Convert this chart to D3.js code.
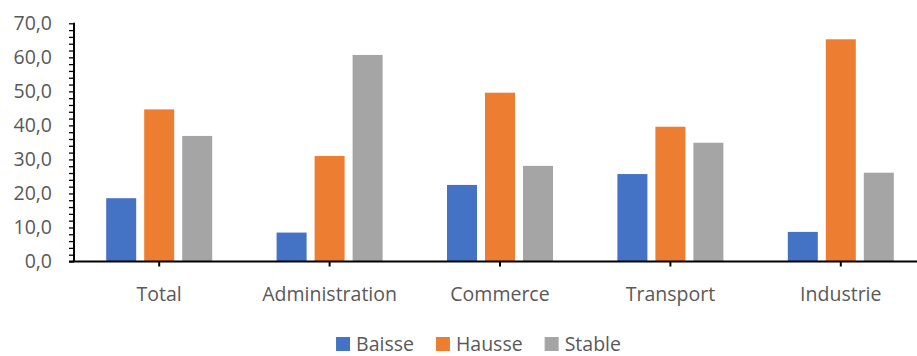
<!DOCTYPE html>
<html>
<head>
<meta charset="utf-8">
<script src="https://cdn.jsdelivr.net/npm/d3@7/dist/d3.min.js"></script>
<style>
  html, body { margin: 0; padding: 0; background: #fff; }
  svg { display: block; font-family: "Open Sans", sans-serif; }
</style>
</head>
<body>
<svg id="chart" width="917" height="356"></svg>
<script>
// Secteurs et séries
const categories = ["Total", "Administration", "Commerce", "Transport", "Industrie"];
const seriesNames = ["Baisse", "Hausse", "Stable"];
const baisse = [18.6, 8.5, 22.5, 25.7, 8.7];
const hausse = [44.7, 31.0, 49.6, 39.6, 65.3];
const stable = [36.9, 60.7, 28.1, 34.9, 26.1];
const yTicks = [0, 10, 20, 30, 40, 50, 60, 70];
const colors = ["#4472C4", "#ED7D31", "#A5A5A5"];

const seriesValues = [baisse, hausse, stable];
const rows = categories.map((c, i) => ({
  category: c,
  values: seriesNames.map((s, j) => ({ series: s, value: seriesValues[j][i] }))
}));

const svg = d3.select("#chart");
const plotLeft = 74, plotRight = 926, plotTop = 23.3, plotBottom = 261.5;
const textColor = "#595959";

const x0 = d3.scaleBand().domain(categories).range([plotLeft, plotRight]).padding(0);
const groupWidth = 106;
const x1 = d3.scaleBand().domain(seriesNames)
  .range([-groupWidth / 2, groupWidth / 2]).paddingInner(8 / 38).paddingOuter(0);
const y = d3.scaleLinear().domain([0, 70]).range([plotBottom, plotTop]);

// Barres
const groups = svg.append("g").selectAll("g")
  .data(rows).join("g")
  .attr("transform", d => `translate(${x0(d.category) + x0.bandwidth() / 2},0)`);
groups.selectAll("rect")
  .data(d => d.values).join("rect")
  .attr("x", d => x1(d.series))
  .attr("width", x1.bandwidth())
  .attr("y", d => y(d.value))
  .attr("height", d => y(0) - y(d.value))
  .attr("fill", (d, i) => colors[i]);

// Axe vertical : graduations tous les 2, libellés tous les 10
const yAxis = d3.axisLeft(y).tickValues(d3.range(0, 70.001, 2))
  .tickSize(5).tickFormat("");
const yg = svg.append("g").attr("transform", `translate(${plotLeft},0)`).call(yAxis);
yg.select(".domain").remove();
yg.selectAll(".tick line").attr("stroke", "#000").attr("stroke-width", 1.3);
svg.append("line")
  .attr("x1", plotLeft).attr("x2", plotLeft).attr("y1", y(70) - 0.5).attr("y2", y(0))
  .attr("stroke", "#000").attr("stroke-width", 2);

svg.append("g").selectAll("text")
  .data(yTicks).join("text")
  .attr("x", 52).attr("y", d => y(d))
  .attr("dy", "0.35em")
  .attr("text-anchor", "end")
  .attr("fill", textColor)
  .style("font-size", "19.5px")
  .text(d => d3.format(".1f")(d).replace(".", ","));

// Axe horizontal
const xAxis = d3.axisBottom(x0).tickSize(5).tickSizeOuter(0).tickFormat("");
const xg = svg.append("g").attr("transform", `translate(0,${plotBottom})`).call(xAxis);
xg.select(".domain").remove();
xg.selectAll(".tick line").attr("stroke", "#000").attr("stroke-width", 2);
svg.append("line")
  .attr("x1", plotLeft - 5).attr("x2", plotRight).attr("y1", plotBottom).attr("y2", plotBottom)
  .attr("stroke", "#000").attr("stroke-width", 2);

svg.append("g").selectAll("text")
  .data(categories).join("text")
  .attr("x", d => x0(d) + x0.bandwidth() / 2)
  .attr("y", 301)
  .attr("text-anchor", "middle")
  .attr("fill", textColor)
  .style("font-size", "19.5px")
  .text(d => d);

// Légende
const legend = svg.append("g");
const items = legend.selectAll("g").data(seriesNames).join("g");
items.append("rect")
  .attr("width", 14).attr("height", 14).attr("y", 337)
  .attr("fill", (d, i) => colors[i]);
items.append("text")
  .attr("x", 20).attr("y", 351)
  .attr("fill", textColor)
  .style("font-size", "19.5px")
  .text(d => d);
let cursor = 0;
const offsets = [];
items.each(function () {
  offsets.push(cursor);
  const w = d3.select(this).select("text").node().getComputedTextLength();
  cursor += 20 + w + 22;
});
const legendWidth = cursor - 22;
const legendStart = 478.5 - legendWidth / 2;
items.attr("transform", (d, i) => `translate(${legendStart + offsets[i]},0)`);
</script>
</body>
</html>
